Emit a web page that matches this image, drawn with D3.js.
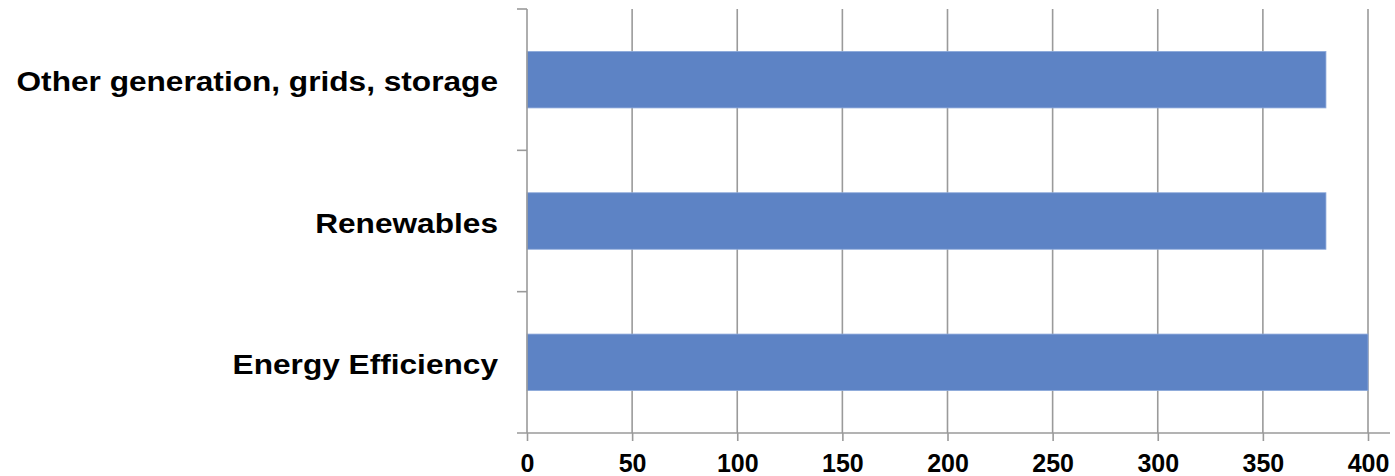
<!DOCTYPE html>
<html>
<head>
<meta charset="utf-8">
<script src="https://cdn.jsdelivr.net/npm/d3@7"></script>
<style>
  html, body { margin: 0; padding: 0; background: #fff; }
  svg { display: block; }
</style>
</head>
<body>
<svg id="chart" width="1395" height="476"></svg>
<script>
// Investment by category (values on the horizontal axis)
const categories = ["Other generation, grids, storage", "Renewables", "Energy Efficiency"];
const values = [380, 380, 400];
const xTicks = [0, 50, 100, 150, 200, 250, 300, 350, 400];

const svg = d3.select("#chart");
const margin = { top: 9, right: 27, bottom: 43, left: 527 };
const plotW = 1368 - margin.left;
const plotH = 433 - margin.top;
const labelStretch = 1.13; // wide-set category lettering

const g = svg.append("g").attr("transform", `translate(${margin.left},${margin.top})`);

const x = d3.scaleLinear().domain([0, 400]).range([0, plotW]);
const y = d3.scaleBand().domain(categories).range([0, plotH])
  .paddingInner(0.6).paddingOuter(0.3);

const gridColor = "#9a9a9a";

// vertical gridlines
g.selectAll("line.grid").data(xTicks.slice(1)).join("line")
  .attr("class", "grid")
  .attr("x1", d => x(d)).attr("x2", d => x(d))
  .attr("y1", 0).attr("y2", plotH)
  .attr("stroke", gridColor).attr("stroke-width", 1.6);

// bars
g.selectAll("rect.bar").data(values).join("rect")
  .attr("class", "bar")
  .attr("x", x(0))
  .attr("y", (d, i) => y(categories[i]))
  .attr("width", d => x(d) - x(0))
  .attr("height", y.bandwidth())
  .attr("fill", "#5d83c5")
  .attr("stroke", "#8eaadb")
  .attr("stroke-width", 0.8);

// x axis
const xAxis = g.append("g").attr("transform", `translate(0,${plotH})`)
  .call(d3.axisBottom(x).tickValues(xTicks).tickSize(8).tickPadding(13.5).tickFormat(d3.format("d")));
xAxis.select(".domain").remove();
xAxis.append("line")
  .attr("x1", -10).attr("x2", 1390 - margin.left)
  .attr("y1", 0).attr("y2", 0)
  .attr("stroke", gridColor).attr("stroke-width", 1.6);
xAxis.selectAll(".tick line").attr("stroke", gridColor).attr("stroke-width", 1.6);
xAxis.selectAll(".tick text")
  .attr("fill", "#000")
  .style("font-family", "Liberation Sans, Arial, sans-serif")
  .style("font-size", "25px")
  .style("font-weight", "bold");

// y axis
const yAxis = g.append("g");
yAxis.append("line")
  .attr("x1", 0).attr("x2", 0).attr("y1", 0).attr("y2", plotH)
  .attr("stroke", gridColor).attr("stroke-width", 1.6);
const step = plotH / categories.length;
yAxis.selectAll("line.ytick").data(d3.range(categories.length)).join("line")
  .attr("class", "ytick")
  .attr("x1", -10).attr("x2", 0)
  .attr("y1", d => d * step).attr("y2", d => d * step)
  .attr("stroke", gridColor).attr("stroke-width", 1.6);
yAxis.selectAll("text").data(categories).join("text")
  .attr("transform", d => `translate(-29,${y(d) + y.bandwidth() / 2}) scale(${labelStretch},1)`)
  .attr("dy", "0.42em")
  .attr("text-anchor", "end")
  .attr("fill", "#000")
  .style("font-family", "Liberation Sans, Arial, sans-serif")
  .style("font-size", "28px")
  .style("font-weight", "bold")
  .text(d => d);
</script>
</body>
</html>
